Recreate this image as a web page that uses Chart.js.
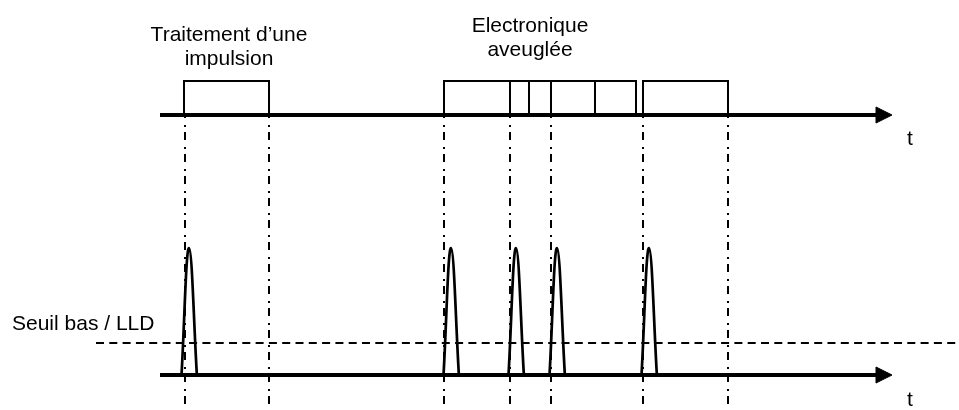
<!DOCTYPE html>
<html>
<head>
<meta charset="utf-8">
<script src="https://cdn.jsdelivr.net/npm/chart.js@4.4.1/dist/chart.umd.min.js"></script>
<style>
  html, body { margin: 0; padding: 0; background: #fff; }
  #wrap { width: 959px; height: 410px; position: relative; }
</style>
</head>
<body>
<div id="wrap"><canvas id="timing-chart"></canvas></div>
<script>
// ======
// data (time in arbitrary units, amplitude in arbitrary units)
// ======
var axisStart = 160, axisEnd = 892;
var pulsePeaks = [189, 451, 516, 557, 649];      // time of each detected pulse peak
var pulseRise = 7.5, pulseFall = 8;
var pulseHeight = 127;
var threshold = 32;                              // Seuil bas / LLD
var thresholdStart = 96, thresholdEnd = 959;
var windowStarts = [184, 444, 510, 551, 643];    // processing window opened by each trigger
var windowLength = 85;
var busyLevel = 34;
var markerTimes = [185, 269, 444, 510, 551, 643, 728];
var upperLane = 260, lowerLane = 0;              // baselines of the two time lines
var yBottom = -35, yTop = 375;

var texts = [
    { lines: ['Traitement d\u2019une', 'impulsion'], x: 229, y: 41, align: 'center' },
    { lines: ['Electronique', 'aveugl\u00e9e'], x: 530, y: 32, align: 'center' },
    { lines: ['Seuil bas / LLD'], x: 12, y: 330, align: 'left' },
    { lines: ['t'], x: 907, y: 145, align: 'left' },
    { lines: ['t'], x: 907, y: 406, align: 'left' }
];

var FONT = '21px "Liberation Sans", Arial, sans-serif';
var INK = '#000';

function lineSet(points, opts) {
    var ds = {
        data: points,
        showLine: true,
        borderColor: INK,
        backgroundColor: INK,
        borderWidth: 2,
        pointRadius: 0,
        fill: false,
        tension: 0
    };
    for (var k in opts) ds[k] = opts[k];
    return ds;
}

var datasets = [];

// time axes with arrow heads
[upperLane, lowerLane].forEach(function(base) {
    datasets.push(lineSet([{x: axisStart, y: base}, {x: axisEnd - 14, y: base}], {borderWidth: 4}));
    datasets.push(lineSet([
        {x: axisEnd - 16, y: base + 8}, {x: axisEnd, y: base},
        {x: axisEnd - 16, y: base - 8}, {x: axisEnd - 16, y: base + 8}
    ], {borderWidth: 1, fill: 'shape'}));
});

// processing windows on the upper line
windowStarts.forEach(function(t) {
    datasets.push(lineSet([
        {x: t, y: upperLane}, {x: t, y: upperLane + busyLevel},
        {x: t + windowLength, y: upperLane + busyLevel}, {x: t + windowLength, y: upperLane}
    ], {borderWidth: 2}));
});

// dash-dot markers
markerTimes.forEach(function(t) {
    datasets.push(lineSet([{x: t, y: upperLane}, {x: t, y: yBottom}], {
        borderWidth: 2, borderDash: [2, 5, 8, 7], borderDashOffset: 12
    }));
});

// threshold
datasets.push(lineSet([{x: thresholdStart, y: threshold}, {x: thresholdEnd, y: threshold}], {
    borderWidth: 2, borderDash: [8, 5.3]
}));

// pulses
pulsePeaks.forEach(function(t) {
    datasets.push(lineSet([
        {x: t - pulseRise, y: lowerLane}, {x: t, y: pulseHeight}, {x: t + pulseFall, y: lowerLane - 2}
    ], {borderWidth: 2.7, tension: 0.4}));
});

var textPlugin = {
    id: 'diagramText',
    afterDatasetsDraw: function(chart) {
        var ctx = chart.ctx;
        var xs = chart.scales.x;
        ctx.save();
        ctx.fillStyle = INK;
        ctx.font = FONT;
        ctx.textBaseline = 'alphabetic';
        texts.forEach(function(t) {
            ctx.textAlign = t.align;
            t.lines.forEach(function(line, i) {
                ctx.fillText(line, xs.getPixelForValue(t.x), t.y + i * 24);
            });
        });
        ctx.restore();
    }
};

new Chart(document.getElementById('timing-chart'), {
    type: 'scatter',
    data: { datasets: datasets },
    options: {
        responsive: true,
        maintainAspectRatio: false,
        animation: false,
        layout: { padding: 0 },
        plugins: { legend: { display: false }, tooltip: { enabled: false } },
        scales: {
            x: { type: 'linear', min: 0, max: 959, display: false },
            y: { type: 'linear', min: yBottom, max: yTop, display: false }
        }
    },
    plugins: [textPlugin]
});
</script>
</body>
</html>
